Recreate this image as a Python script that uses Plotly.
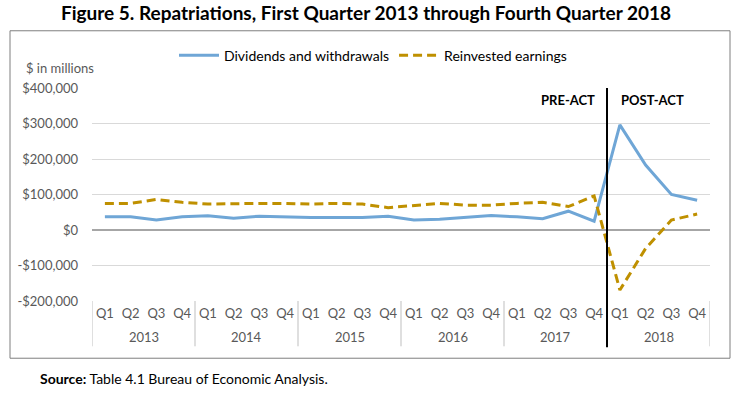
import plotly.graph_objects as go

years = ["2013", "2014", "2015", "2016", "2017", "2018"]
quarters = ["Q1", "Q2", "Q3", "Q4"]
dividends = [37000, 37000, 28000, 37000,
             40000, 33000, 39000, 36000,
             35000, 35000, 35000, 39000,
             28000, 30000, 35000, 41000,
             37000, 32000, 53000, 25000,
             296000, 183000, 100000, 84000]
reinvested = [75000, 75000, 86000, 78000,
              73000, 75000, 75000, 75000,
              73000, 75000, 73000, 63000,
              68000, 75000, 70000, 70000,
              75000, 78000, 66000, 96000,
              -169000, -52000, 28000, 45000]
ytick_vals = [-200000, -100000, 0, 100000, 200000, 300000, 400000]
ytick_text = ["-$200,000", "-$100,000", "$0", "$100,000", "$200,000", "$300,000", "$400,000"]

x_q = [q for y in years for q in quarters]
x_idx = list(range(len(x_q)))
nq = len(quarters)
n = len(x_q)

FONT = "Lato"
GREY = "#595959"

fig = go.Figure()
fig.add_trace(go.Scatter(x=x_idx, y=dividends, mode="lines",
                         name="Dividends and withdrawals",
                         line=dict(color="#6FA6D6", width=3)))
fig.add_trace(go.Scatter(x=x_idx, y=reinvested, mode="lines",
                         name="Reinvested earnings",
                         line=dict(color="#BF9000", width=3, dash="9px,5px")))

# plot area in pixels
L, R, T, B = 92, 710, 87.5, 301.5
W, H = 739, 396
def px(x):
    return (x - L) / (R - L)
def py(y):
    return (B - y) / (B - T)

shapes = [
    dict(type="rect", xref="paper", yref="paper", x0=px(10), x1=px(730), y0=py(359), y1=py(30),
         line=dict(color="#7F7F7F", width=1), layer="below"),
]
# year dividers
for k in range(len(years) + 1):
    shapes.append(dict(type="line", xref="x", yref="paper", x0=k * nq - 0.5, x1=k * nq - 0.5,
                       y0=py(347), y1=0, line=dict(color="#BFBFBF", width=1)))
# pre/post act divider (before last year)
split = (len(years) - 1) * nq - 0.5
shapes.append(dict(type="line", xref="x", yref="paper", x0=split, x1=split, y0=py(348), y1=1,
                   line=dict(color="black", width=2)))

annotations = [
    dict(text="$ in millions", xref="paper", yref="paper", x=px(24), y=py(67), xanchor="left", yanchor="middle",
         showarrow=False, font=dict(family=FONT, size=13, color=GREY)),
    dict(text="<b>PRE-ACT</b>", xref="paper", yref="paper", x=px(597), y=py(100), xanchor="right", yanchor="middle",
         showarrow=False, font=dict(family=FONT, size=13, color="black")),
    dict(text="<b>POST-ACT</b>", xref="paper", yref="paper", x=px(619), y=py(100), xanchor="left", yanchor="middle",
         showarrow=False, font=dict(family=FONT, size=13, color="black")),
    dict(text="<b>Source:</b> Table 4.1 Bureau of Economic Analysis.", xref="paper", yref="paper",
         x=px(38), y=py(379), xanchor="left", yanchor="middle",
         showarrow=False, font=dict(family=FONT, size=14, color="black")),
]
for k, yr in enumerate(years):
    annotations.append(dict(text=yr, xref="x", yref="paper", x=k * nq + (nq - 1) / 2, y=py(338),
                            xanchor="center", yanchor="middle", showarrow=False,
                            font=dict(family=FONT, size=13, color=GREY)))

fig.update_layout(
    width=W, height=H,
    margin=dict(l=L, r=W - R, t=T, b=H - B),
    paper_bgcolor="white", plot_bgcolor="white",
    title=dict(text="<b>Figure 5. Repatriations, First Quarter 2013 through Fourth Quarter 2018</b>",
               x=366 / W, xanchor="center", xref="container", y=1 - 13 / H, yanchor="middle", yref="container",
               font=dict(family=FONT, size=19, color="black")),
    legend=dict(orientation="h", x=px(373), xanchor="center", y=py(55), yanchor="middle",
                font=dict(family=FONT, size=14, color="black"), bgcolor="rgba(0,0,0,0)",
                itemwidth=40, tracegroupgap=0),
    shapes=shapes, annotations=annotations,
    showlegend=True,
)
fig.update_yaxes(range=[-200000, 400000], tickvals=ytick_vals, ticktext=ytick_text,
                 showgrid=True, gridcolor="#D9D9D9", gridwidth=1,
                 zeroline=True, zerolinecolor="#A6A6A6", zerolinewidth=1.5,
                 tickfont=dict(family=FONT, size=13, color=GREY), ticks="", showline=False,
                 ticklabelstandoff=13, automargin=False)
fig.update_xaxes(range=[-0.5, n - 0.5], tickvals=x_idx, ticktext=x_q,
                 showgrid=False, showline=False, zeroline=False, ticks="", tickangle=0,
                 ticklabelstandoff=3,
                 tickfont=dict(family=FONT, size=13, color=GREY), automargin=False)

fig.write_html("out.html", config={"displayModeBar": False},
               post_script="document.body.style.margin='0';")
